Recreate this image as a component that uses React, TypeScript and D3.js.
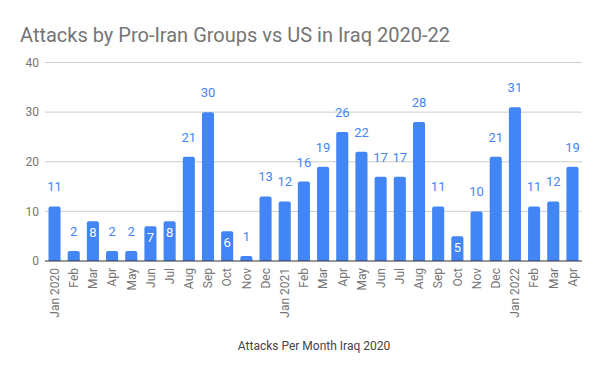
import React from "react";
import * as d3 from "d3";

const months = [
  "Jan 2020", "Feb", "Mar", "Apr", "May", "Jun", "Jul", "Aug", "Sep", "Oct", "Nov", "Dec",
  "Jan 2021", "Feb", "Mar", "Apr", "May", "Jun", "Jul", "Aug", "Sep", "Oct", "Nov", "Dec",
  "Jan 2022", "Feb", "Mar", "Apr",
];
const attacks = [
  11, 2, 8, 2, 2, 7, 8, 21, 30, 6, 1, 13,
  12, 16, 19, 26, 22, 17, 17, 28, 11, 5, 10, 21,
  31, 11, 12, 19,
];
const yTicks = [0, 10, 20, 30, 40];
const title = "Attacks by Pro-Iran Groups vs US in Iraq 2020-22";
const xTitle = "Attacks Per Month Iraq 2020";

const W = 600;
const H = 371;
const FONT = "Roboto, 'Noto Sans', sans-serif";
const BLUE = "#4285F4";

export default function App() {
  const idx = months.map((_, i) => i);
  const x = d3.scaleBand<number>().domain(idx).range([48.5, 578.5]).paddingInner(0.37).paddingOuter(0);
  const y = d3.scaleLinear().domain([0, 40]).range([261, 62.5]);
  const gridX0 = 45;
  const gridX1 = 582;
  const bw = x.bandwidth();
  const r = 2;

  const barPath = (i: number, v: number) => {
    const x0 = x(i)!;
    const x1 = x0 + bw;
    const y0 = y(0);
    const y1 = y(v);
    const rr = Math.min(r, (y0 - y1) / 2);
    return `M${x0},${y0}V${y1 + rr}Q${x0},${y1} ${x0 + rr},${y1}H${x1 - rr}Q${x1},${y1} ${x1},${y1 + rr}V${y0}Z`;
  };

  return (
    <svg
      width={W}
      height={H}
      style={{ position: "absolute", left: 0, top: 0, background: "#fff" }}
      fontFamily={FONT}
    >
      <rect width={W} height={H} fill="#fff" />
      <text x={20} y={42} fontSize={20} fill="#757575">{title}</text>
      {yTicks.map((t) => (
        <g key={t}>
          {t !== 0 && (
            <line x1={gridX0} x2={gridX1} y1={y(t)} y2={y(t)} stroke="#cccccc" strokeWidth={1} />
          )}
          <text x={39} y={y(t) + 4.3} fontSize={12} fill="#757575" textAnchor="end">{t}</text>
        </g>
      ))}
      {attacks.map((v, i) => (
        <path key={i} d={barPath(i, v)} fill={BLUE} />
      ))}
      <line x1={gridX0} x2={gridX1} y1={y(0)} y2={y(0)} stroke="#333333" strokeWidth={1} />
      {attacks.map((v, i) => {
        const cx = x(i)! + bw / 2;
        const inside = v >= 5 && v < 10;
        return (
          <text
            key={i}
            x={cx}
            y={inside ? y(v) + 15.5 : y(v) - 15}
            fontSize={13}
            textAnchor="middle"
            fill={inside ? "#ffffff" : BLUE}
          >
            {v}
          </text>
        );
      })}
      {months.map((m, i) => {
        const cx = x(i)! + bw / 2 + 4.3;
        const ty = 268;
        return (
          <text
            key={i}
            transform={`translate(${cx},${ty}) rotate(-90)`}
            fontSize={12}
            textAnchor="end"
            fill="#757575"
          >
            {m}
          </text>
        );
      })}
      <text x={314} y={350} fontSize={12} textAnchor="middle" fill="#444444">{xTitle}</text>
    </svg>
  );
}
